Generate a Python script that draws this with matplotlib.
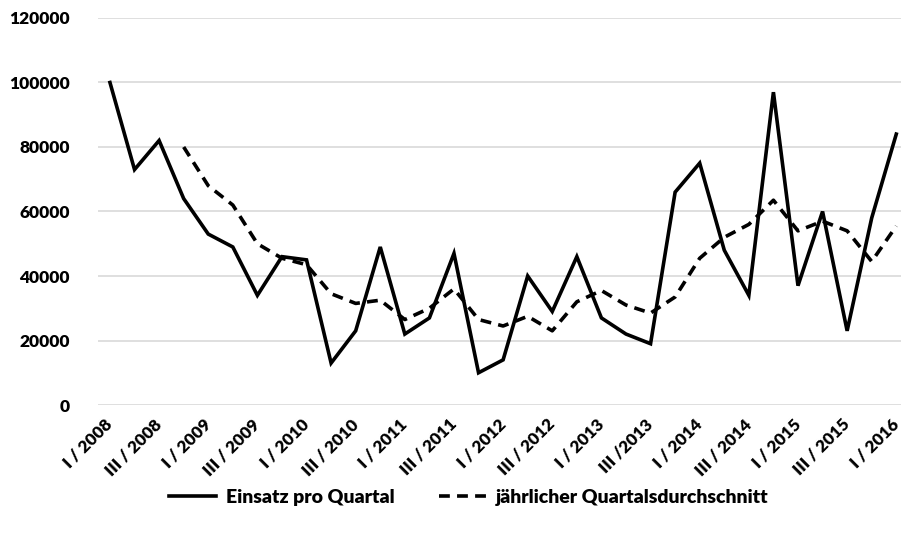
import numpy as np
import matplotlib.pyplot as plt

plt.rcParams['font.family'] = ['Lato', 'DejaVu Sans']
plt.rcParams['font.weight'] = 'heavy'

# Quartale I/2008 bis I/2016
quartale = ['I', 'II', 'III', 'IV']
labels = []
for jahr in range(2008, 2017):
    for q in quartale:
        labels.append(q + ' / ' + str(jahr))
labels = labels[:33]
labels[22] = 'III /2013'   # so steht es im Original

# Einsatz pro Quartal
einsatz = [100000, 73000, 82000, 64000, 53000, 49000, 34000, 46000,
           45000, 13000, 23000, 49000, 22000, 27000, 47000, 10000,
           14000, 40000, 29000, 46000, 27000, 22000, 19000, 66000,
           75000, 48000, 34000, 97000, 37000, 60000, 23000, 58000,
           84000]

# jährlicher Quartalsdurchschnitt (erst ab IV/2008)
durchschnitt = [np.nan, np.nan, np.nan, 80000, 68000, 62000, 50000, 45500,
                43500, 34500, 31500, 32500, 26500, 30000, 36000, 26500,
                24500, 27500, 23000, 32000, 35500, 31000, 28500, 33500,
                45500, 52000, 56000, 63500, 54000, 57000, 54000, 44500,
                55500]

x = np.arange(len(einsatz))

fig = plt.figure(figsize=(9.01, 5.37), dpi=100)
ax = fig.add_axes([0.1084, 0.2458, 0.9, 0.7207])

ax.plot(x, einsatz, color='black', lw=2.6, solid_joinstyle='miter',
        label='Einsatz pro Quartal')
ax.plot(x, durchschnitt, color='black', lw=2.6, linestyle=(0, (3, 2)),
        label='jährlicher Quartalsdurchschnitt')

ax.set_xlim(-0.5, 32.5)
ax.set_ylim(0, 120000)
ax.set_yticks(np.arange(0, 120001, 20000))
ax.yaxis.grid(True, color='#d9d9d9', lw=1.2)
ax.set_axisbelow(True)
for s in ax.spines.values():
    s.set_visible(False)

ax.set_xticks(x[::2])
ax.set_xticklabels(labels[::2], rotation=45, ha='right', va='center',
                   rotation_mode='anchor', fontsize=12.3)
ax.tick_params(axis='both', length=0, colors='black')
ax.tick_params(axis='y', labelsize=12.5, pad=20)
ax.tick_params(axis='x', pad=12)

fig.legend(loc='center', bbox_to_anchor=(0.52, 0.074), ncol=2, frameon=False,
           fontsize=14, handlelength=2.4, columnspacing=2.3, handletextpad=0.5)

plt.savefig('out.png', dpi=100)
